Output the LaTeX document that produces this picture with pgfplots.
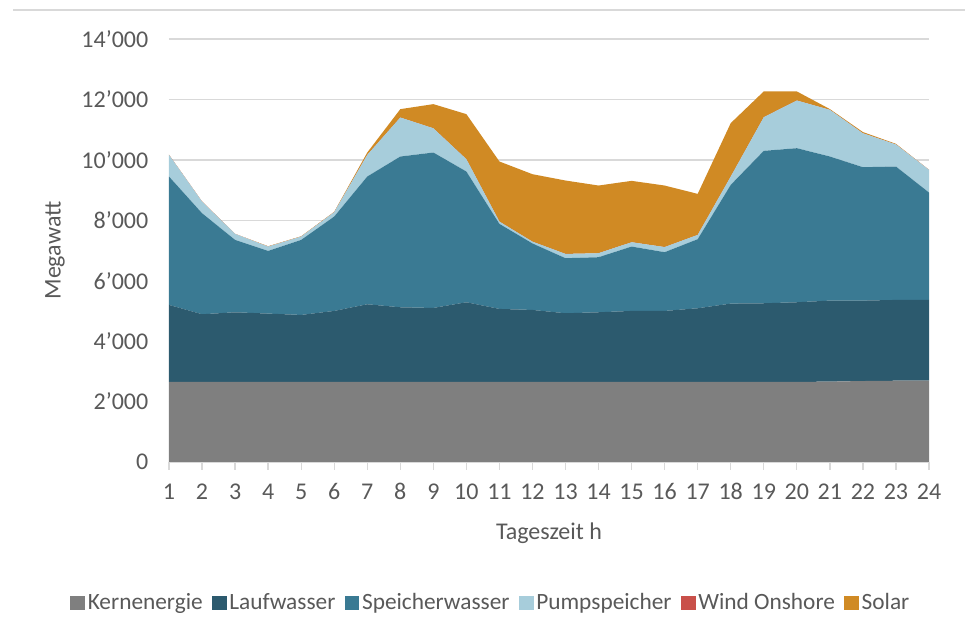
\documentclass[border=0pt]{standalone}
\usepackage{fontspec}
\setmainfont{Carlito}
\usepackage{pgfplots}
\usepackage{pgfplotstable}
\pgfplotsset{compat=1.18}
\definecolor{ckern}{HTML}{7F7F7F}
\definecolor{clauf}{HTML}{2C5A6E}
\definecolor{cspei}{HTML}{3A7A93}
\definecolor{cpump}{HTML}{A7CDDB}
\definecolor{cwind}{HTML}{C9504A}
\definecolor{csolar}{HTML}{D08A24}
\definecolor{ctext}{HTML}{595959}
\definecolor{cgrid}{HTML}{D9D9D9}
\pgfplotstableread{
h kern lauf speicher pump wind solar
1  2650 2549 4249 717 0 0
2  2650 2240 3344 386 0 0
3  2650 2306 2395 199 0 0
4  2650 2262 2075 143 0 10
5  2650 2218 2483 110 0 9
6  2650 2350 3124 144 0 12
7  2650 2571 4227 717 0 78
8  2650 2471 4989 1292 0 276
9  2650 2449 5144 803 0 798
10 2650 2637 4327 408 0 1491
11 2650 2416 2815 76 0 1988
12 2650 2383 2200 60 0 2232
13 2650 2273 1822 142 0 2429
14 2650 2306 1822 132 0 2240
15 2650 2350 2130 144 0 2031
16 2650 2350 1944 170 0 2036
17 2650 2438 2286 143 0 1357
18 2650 2593 3929 276 0 1768
19 2650 2604 5044 1115 0 852
20 2650 2637 5099 1579 0 300
21 2660 2682 4768 1546 0 24
22 2680 2662 4415 1123 0 40
23 2690 2674 4415 731 0 20
24 2690 2674 3554 751 0 0
}\data
\begin{document}
\begin{tikzpicture}
\path[use as bounding box] (0pt,0pt) rectangle (723.75pt,476.25pt);
\draw[cgrid, line width=1pt] (9.75pt,468.75pt) -- (723.75pt,468.75pt);
\begin{axis}[
  at={(126.75pt,129.75pt)}, anchor=south west,
  scale only axis, width=570pt, height=317.25pt,
  xmin=1, xmax=24, ymin=0, ymax=14000,
  stack plots=y,
  axis x line*=bottom, axis y line*=left,
  x axis line style={cgrid, line width=1pt, -},
  y axis line style={draw=none},
  xtick={1,...,24}, ytick={0,2000,...,14000},
  scaled y ticks=false,
  /pgf/number format/assume math mode=true,
  yticklabel style={/pgf/number format/fixed, /pgf/number format/1000 sep={’}, xshift=-6pt},
  ymajorgrids, grid style={cgrid, line width=1pt},
  tick align=outside, major tick length=6pt,
  x tick style={cgrid, line width=1pt}, y tick style={draw=none},
  tick label style={font=\fontsize{18}{20}\selectfont, text=ctext},
  xticklabel style={yshift=-6pt, text height=12.5pt, text depth=0pt},
  ylabel={Megawatt}, xlabel={Tageszeit h},
  label style={font=\fontsize{18}{20}\selectfont, text=ctext},
  y label style={at={(axis description cs:-0.15,0.5)}, anchor=center},
  x label style={at={(axis description cs:0.5,-0.168)}, anchor=center},
  legend style={at={(axis description cs:0.424,-0.333)}, anchor=center, draw=none,
    font=\fontsize{17.5}{20}\selectfont, text=ctext,
    /tikz/every even column/.append style={column sep=5pt}},
  legend columns=-1,
  legend image code/.code={\path[#1, draw=none] (-3pt,-5.5pt) rectangle (8pt,5.5pt);},
  clip=false,
]
\addplot[fill=ckern, draw=none] table[x=h,y=kern]{\data} \closedcycle;
\addplot[fill=clauf, draw=none] table[x=h,y=lauf]{\data} \closedcycle;
\addplot[fill=cspei, draw=none] table[x=h,y=speicher]{\data} \closedcycle;
\addplot[fill=cpump, draw=none] table[x=h,y=pump]{\data} \closedcycle;
\addplot[fill=cwind, draw=none] table[x=h,y=wind]{\data} \closedcycle;
\addplot[fill=csolar, draw=none] table[x=h,y=solar]{\data} \closedcycle;
\legend{Kernenergie, Laufwasser, Speicherwasser, Pumpspeicher, Wind Onshore, Solar}
\end{axis}
\end{tikzpicture}
\end{document}
